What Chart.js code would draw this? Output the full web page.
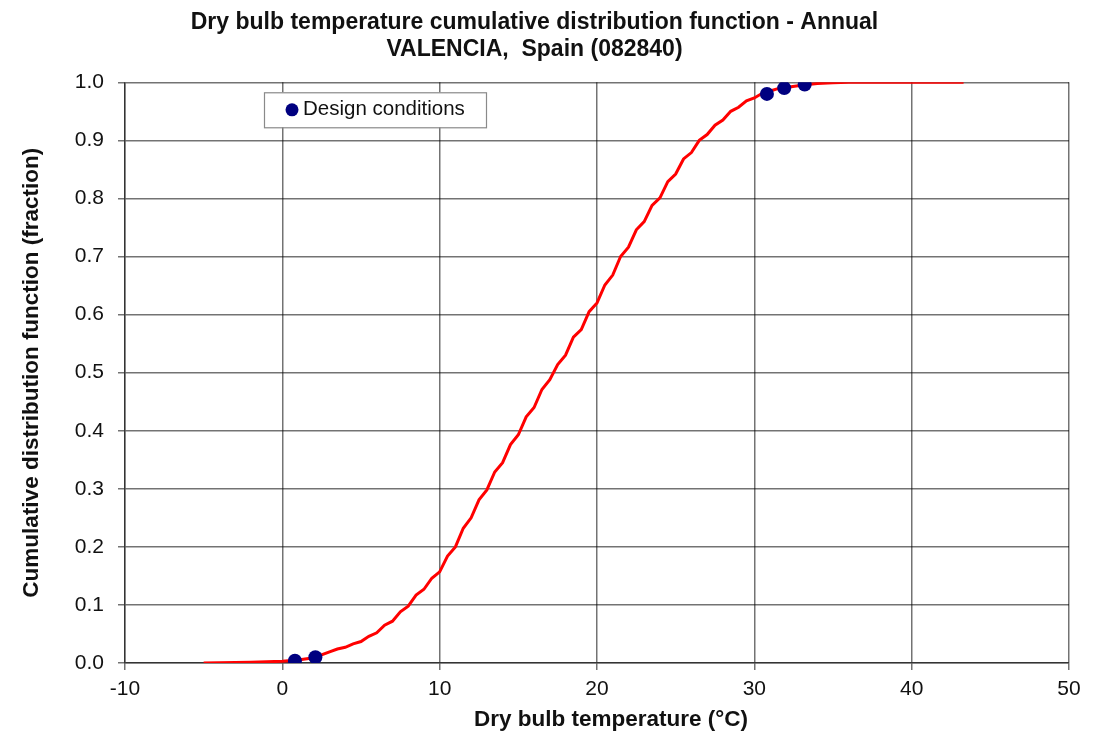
<!DOCTYPE html>
<html>
<head>
<meta charset="utf-8">
<script src="https://cdn.jsdelivr.net/npm/chart.js@4"></script>
<style>
html,body{margin:0;padding:0;background:#fff;}
#wrap{width:1099px;height:733px;position:relative;}
</style>
</head>
<body>
<div id="wrap"><canvas id="c" width="1099" height="733"></canvas></div>
<script>
// Dry bulb temperature (°C) and cumulative fraction of the CDF curve
const curveTemps = [-5, -4, -3, -2, -1, 0, 1, 2, 3, 3.5, 4, 4.5, 5, 5.5, 6, 6.5, 7, 7.5, 8, 8.5, 9, 9.5, 10, 10.5, 11, 11.5, 12, 12.5, 13, 13.5, 14, 14.5, 15, 15.5, 16, 16.5, 17, 17.5, 18, 18.5, 19, 19.5, 20, 20.5, 21, 21.5, 22, 22.5, 23, 23.5, 24, 24.5, 25, 25.5, 26, 26.5, 27, 27.5, 28, 28.5, 29, 29.5, 30, 30.5, 31, 31.5, 32, 33, 34, 35, 36, 43.3];
const curveCdf = [0.0, 0.0005, 0.001, 0.0015, 0.002, 0.003, 0.005, 0.009, 0.019, 0.024, 0.027, 0.033, 0.037, 0.046, 0.052, 0.065, 0.072, 0.088, 0.098, 0.117, 0.127, 0.146, 0.157, 0.184, 0.200, 0.232, 0.250, 0.281, 0.298, 0.329, 0.345, 0.376, 0.393, 0.424, 0.440, 0.471, 0.488, 0.514, 0.530, 0.561, 0.574, 0.605, 0.620, 0.651, 0.668, 0.700, 0.716, 0.746, 0.760, 0.788, 0.801, 0.829, 0.842, 0.868, 0.879, 0.900, 0.910, 0.926, 0.935, 0.950, 0.957, 0.968, 0.973, 0.981, 0.985, 0.989, 0.991, 0.995, 0.998, 0.999, 1.0, 1.0];
// Design conditions
const designTemps = [0.8, 2.1, 30.8, 31.9, 33.2];
const designCdf = [0.004, 0.010, 0.980, 0.990, 0.996];
const xTickMin = -10, xTickMax = 50, xTickStep = 10;
const yTickMin = 0, yTickMax = 1, yTickStep = 0.1;
const titleLines = ['Dry bulb temperature cumulative distribution function - Annual', 'VALENCIA,  Spain (082840)'];
const xTitle = 'Dry bulb temperature (°C)';
const yTitle = 'Cumulative distribution function (fraction)';
const designLabel = 'Design conditions';

const FONT = '"Liberation Sans", Arial, sans-serif';
const GRID = 'rgba(0,0,0,0.55)';

const decorPlugin = {
  id: 'decor',
  afterDraw(chart) {
    const ctx = chart.ctx;
    const a = chart.chartArea;
    const ds = chart.data.datasets[1];
    // legend box
    const x0 = a.left + 139, y0 = a.top + 10, w = 222, h = 35;
    ctx.save();
    ctx.fillStyle = '#fff';
    ctx.fillRect(x0, y0, w, h);
    ctx.strokeStyle = '#8a8a8a';
    ctx.lineWidth = 1.2;
    ctx.strokeRect(x0 + 0.5, y0 + 0.5, w, h);
    ctx.fillStyle = ds.backgroundColor;
    ctx.beginPath();
    ctx.arc(x0 + 28, y0 + 17.5, 6.5, 0, Math.PI * 2);
    ctx.fill();
    ctx.fillStyle = '#111';
    ctx.font = '20.5px ' + FONT;
    ctx.textBaseline = 'middle';
    ctx.textAlign = 'left';
    ctx.fillText(ds.label, x0 + 39, y0 + 17.5);
    // x axis title
    ctx.font = 'bold 22.5px ' + FONT;
    ctx.textAlign = 'center';
    ctx.fillText(xTitle, (a.left + a.right) / 2 + 14, chart.height - 13);
    ctx.restore();
  }
};

new Chart(document.getElementById('c'), {
  type: 'scatter',
  data: {
    datasets: [
      {
        label: 'CDF',
        data: curveTemps.map((t, i) => ({x: t, y: curveCdf[i]})),
        showLine: true,
        borderColor: '#ff0000',
        backgroundColor: '#ff0000',
        borderWidth: 3,
        pointRadius: 0,
        tension: 0,
        order: 2
      },
      {
        label: designLabel,
        data: designTemps.map((t, i) => ({x: t, y: designCdf[i]})),
        showLine: false,
        backgroundColor: '#000080',
        borderColor: '#000080',
        pointRadius: 7,
        pointBorderWidth: 0,
        order: 1
      }
    ]
  },
  options: {
    responsive: false,
    animation: false,
    devicePixelRatio: 1,
    layout: {padding: {left: 0, right: 30, top: 0, bottom: 0}},
    plugins: {
      legend: {display: false},
      tooltip: {enabled: false},
      title: {
        display: true,
        text: titleLines,
        color: '#111',
        font: {family: FONT, size: 23, weight: 'bold', lineHeight: 1.18},
        padding: {top: 9, bottom: 19}
      }
    },
    scales: {
      x: {
        type: 'linear',
        min: xTickMin, max: xTickMax,
        ticks: {stepSize: xTickStep, color: '#111', font: {family: FONT, size: 21}, padding: 7},
        grid: {color: GRID, lineWidth: 1.5, tickLength: 7, tickColor: GRID},
        border: {color: GRID, width: 1.5},
        title: {display: false, text: xTitle},
        afterFit(s) { s.height = 70; }
      },
      y: {
        type: 'linear',
        min: yTickMin, max: yTickMax,
        ticks: {stepSize: yTickStep, color: '#111', font: {family: FONT, size: 21}, padding: 14, callback: v => v.toFixed(1)},
        grid: {color: GRID, lineWidth: 1.5, tickLength: 7, tickColor: GRID},
        border: {color: GRID, width: 1.5},
        title: {display: true, text: yTitle, color: '#111', font: {family: FONT, size: 22.5, weight: 'bold'}, padding: {top: 18, bottom: 0}},
        afterFit(s) { s.width = 125; }
      }
    }
  },
  plugins: [decorPlugin]
});
</script>
</body>
</html>
